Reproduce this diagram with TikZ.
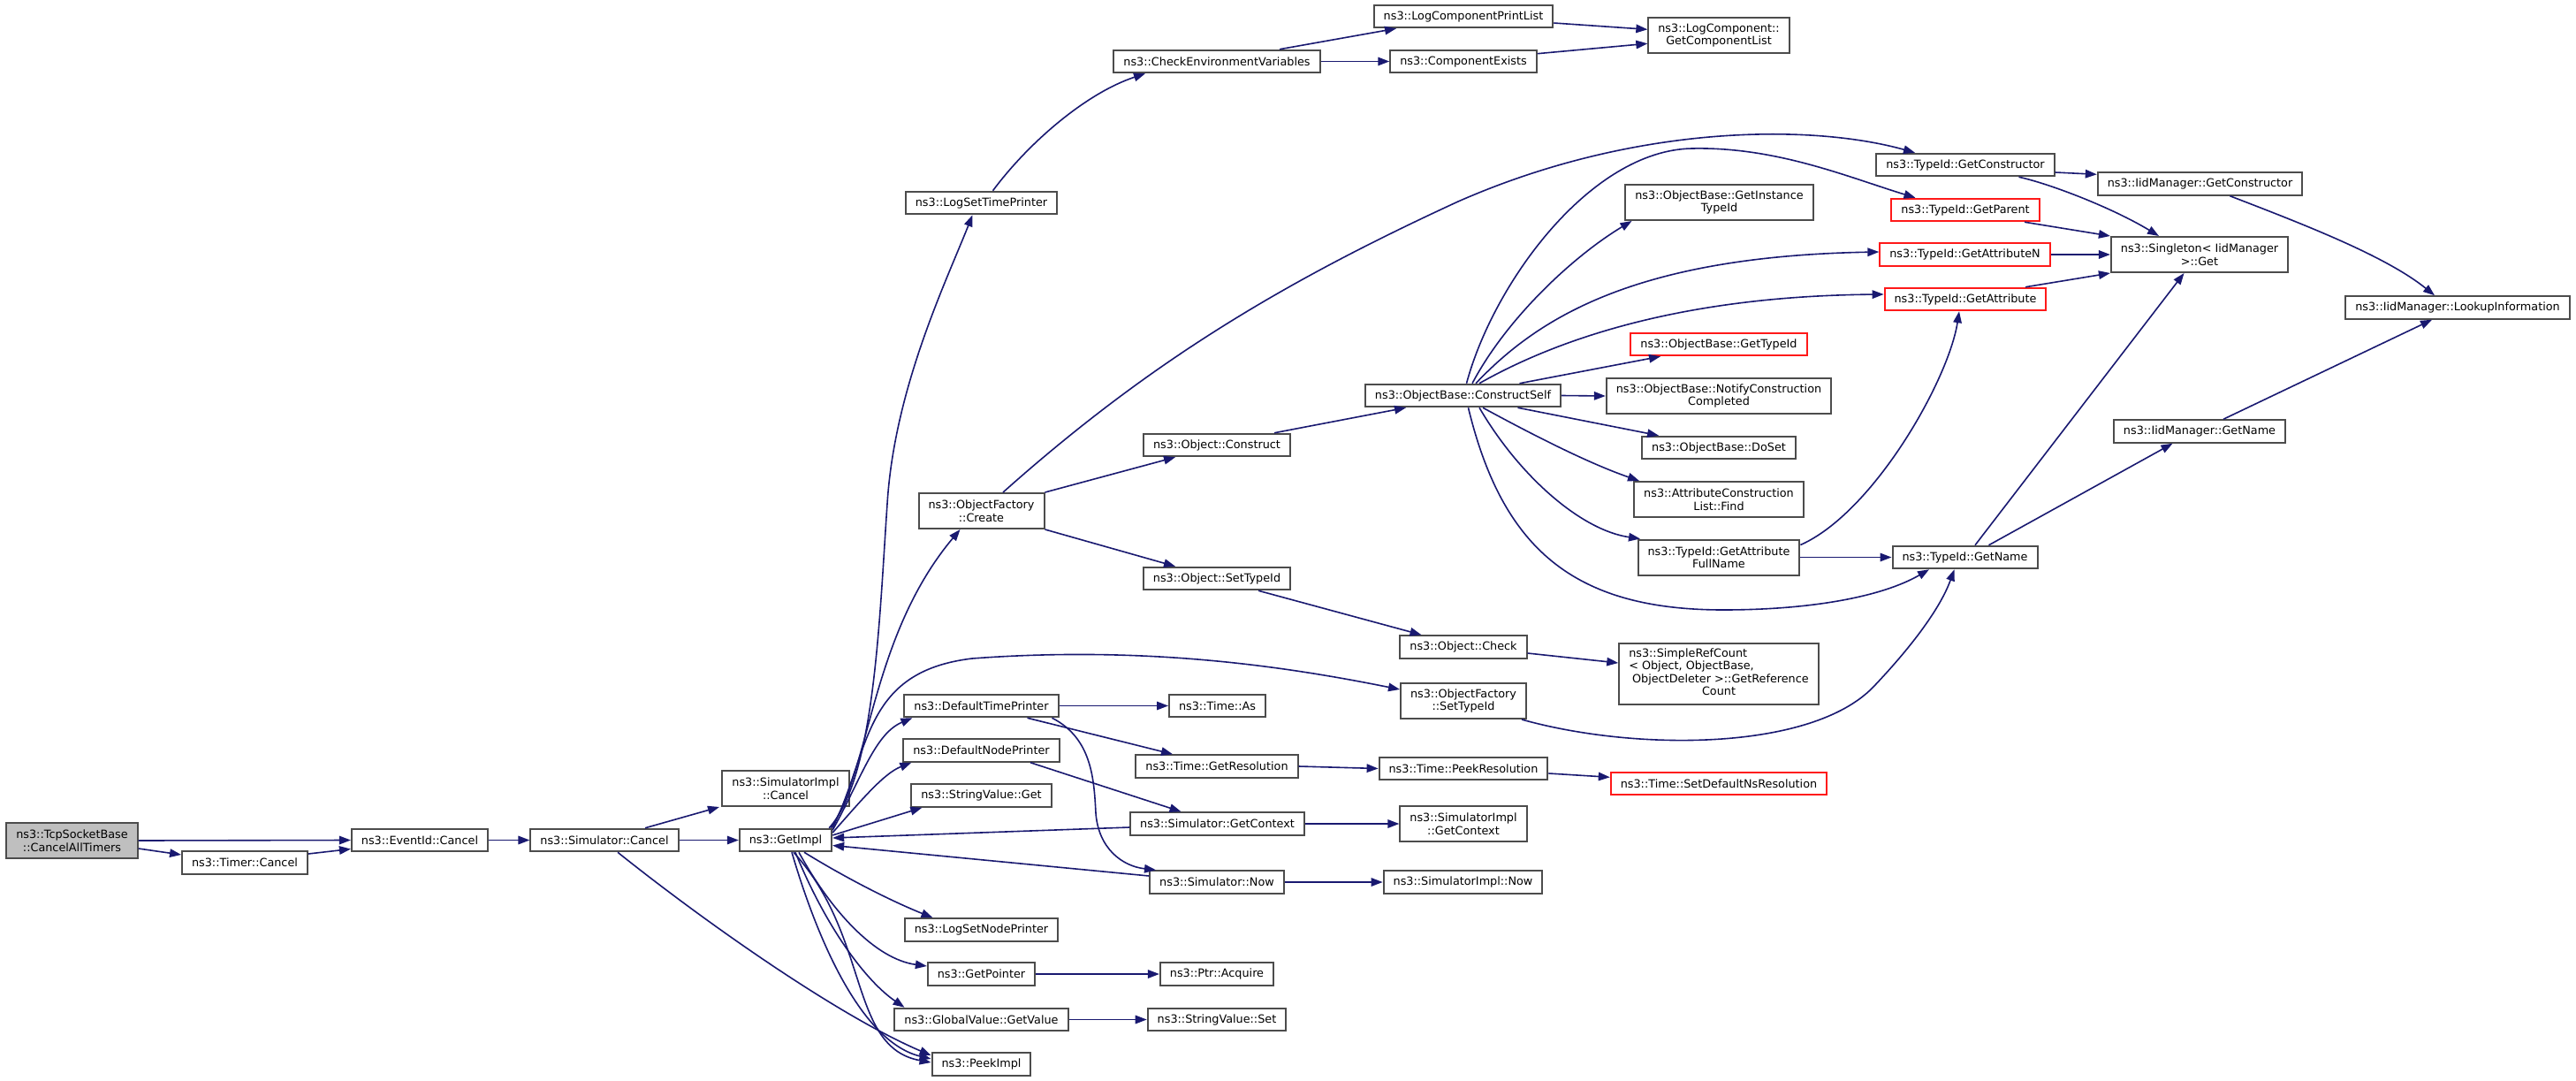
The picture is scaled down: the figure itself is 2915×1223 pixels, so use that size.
\documentclass[tikz,border=0pt]{standalone}
\usepackage{fontspec}
\setmainfont{DejaVu Sans}
\usetikzlibrary{arrows.meta}
\definecolor{navy}{HTML}{191970}

\begin{document}
\begin{tikzpicture}[x=1pt, y=-1pt,
    fn/.style={draw=black!70, line width=2pt, fill=white, inner xsep=11pt, inner ysep=0pt,
        minimum height=25.5pt, align=center, font=\fontsize{12.8}{14.5}\selectfont},
    two/.style={minimum height=40pt},
    trunc/.style={draw=red!90},
    call/.style={draw=navy, line width=1.6pt, -{Triangle[length=13pt,width=9.5pt]}}]
    \useasboundingbox (0,0) rectangle (2915,1223);

    % Root and first callees
    \node[fn, two, fill=black!25] (tcp) at (81.5,951) {ns3::TcpSocketBase\\::CancelAllTimers};
    \node[fn] (timer) at (277,976) {ns3::Timer::Cancel};
    \node[fn] (evcancel) at (475,950.5) {ns3::EventId::Cancel};
    \node[fn] (simcancel) at (684,950.5) {ns3::Simulator::Cancel};
    \node[fn, two] (simimplcancel) at (889,892) {ns3::SimulatorImpl\\::Cancel};
    \node[fn] (getimpl) at (889,950.5) {ns3::GetImpl};

    % Callees of GetImpl
    \node[fn] (logsettime) at (1110.5,229.5) {ns3::LogSetTimePrinter};
    \node[fn, two] (ofcreate) at (1110.5,578) {ns3::ObjectFactory\\::Create};
    \node[fn] (deftime) at (1110.5,798.5) {ns3::DefaultTimePrinter};
    \node[fn] (defnode) at (1110.5,849) {ns3::DefaultNodePrinter};
    \node[fn] (strget) at (1110.5,900) {ns3::StringValue::Get};
    \node[fn] (logsetnode) at (1110.5,1052) {ns3::LogSetNodePrinter};
    \node[fn] (getpointer) at (1110.5,1102) {ns3::GetPointer};
    \node[fn] (globalget) at (1110.5,1153.5) {ns3::GlobalValue::GetValue};
    \node[fn] (peekimpl) at (1110.5,1204) {ns3::PeekImpl};

    % Third column
    \node[fn] (checkenv) at (1377,69.5) {ns3::CheckEnvironmentVariables};
    \node[fn] (objconstruct) at (1377,503.5) {ns3::Object::Construct};
    \node[fn] (objsettype) at (1377,654.5) {ns3::Object::SetTypeId};
    \node[fn] (timeas) at (1377.5,798.5) {ns3::Time::As};
    \node[fn] (getres) at (1377,867) {ns3::Time::GetResolution};
    \node[fn] (simgetctx) at (1377.5,932) {ns3::Simulator::GetContext};
    \node[fn] (simnow) at (1377,998) {ns3::Simulator::Now};
    \node[fn] (ptracq) at (1377,1102) {ns3::Ptr::Acquire};
    \node[fn] (strset) at (1377,1153.5) {ns3::StringValue::Set};

    % Fourth column
    \node[fn] (logprint) at (1656,18.5) {ns3::LogComponentPrintList};
    \node[fn] (compexists) at (1656,69.5) {ns3::ComponentExists};
    \node[fn] (constructself) at (1655.5,447.5) {ns3::ObjectBase::ConstructSelf};
    \node[fn] (objcheck) at (1656,732) {ns3::Object::Check};
    \node[fn, two] (ofsettype) at (1656,793) {ns3::ObjectFactory\\::SetTypeId};
    \node[fn] (peekres) at (1656,869.5) {ns3::Time::PeekResolution};
    \node[fn, two] (implgetctx) at (1656,932) {ns3::SimulatorImpl\\::GetContext};
    \node[fn] (implnow) at (1655.5,998) {ns3::SimulatorImpl::Now};

    % Fifth column
    \node[fn, two] (getcomplist) at (1945,40) {ns3::LogComponent::\\GetComponentList};
    \node[fn, two] (getinsttype) at (1945.5,229) {ns3::ObjectBase::GetInstance\\TypeId};
    \node[fn, trunc] (obgettypeid) at (1945,389.5) {ns3::ObjectBase::GetTypeId};
    \node[fn, two] (notify) at (1945,448) {ns3::ObjectBase::NotifyConstruction\\Completed};
    \node[fn] (obdoset) at (1945,506.5) {ns3::ObjectBase::DoSet};
    \node[fn, two] (acfind) at (1945,565) {ns3::AttributeConstruction\\List::Find};
    \node[fn, two] (gafn) at (1945,630.5) {ns3::TypeId::GetAttribute\\FullName};
    \node[fn, minimum height=69pt] (refcount) at (1945,762)
        {\begin{tabular}{@{}l@{}}ns3::SimpleRefCount\\< Object, ObjectBase,\\\hspace{0.3em}ObjectDeleter >::GetReference\\\multicolumn{1}{@{}c@{}}{Count}\end{tabular}};
    \node[fn, trunc] (setdefres) at (1945,886.3) {ns3::Time::SetDefaultNsResolution};

    % TypeId and IidManager
    \node[fn] (tidctor) at (2224,186.5) {ns3::TypeId::GetConstructor};
    \node[fn, trunc] (tidparent) at (2224,237.5) {ns3::TypeId::GetParent};
    \node[fn, trunc] (tidattrn) at (2223.5,288) {ns3::TypeId::GetAttributeN};
    \node[fn, trunc] (tidattr) at (2224,338.5) {ns3::TypeId::GetAttribute};
    \node[fn] (tidgetname) at (2223.5,630.5) {ns3::TypeId::GetName};
    \node[fn] (iidctor) at (2489.5,208) {ns3::IidManager::GetConstructor};
    \node[fn, two] (singleton) at (2489,288) {ns3::Singleton< IidManager\\>::Get};
    \node[fn] (iidgetname) at (2489,488) {ns3::IidManager::GetName};
    \node[fn] (lookup) at (2781,348) {ns3::IidManager::LookupInformation};

    % Straight calls
    \foreach \a/\b in {tcp/evcancel, evcancel/simcancel, simcancel/getimpl, checkenv/compexists,
        deftime/timeas, getres/peekres, simgetctx/implgetctx, simnow/implnow, getpointer/ptracq,
        globalget/strset, constructself/notify, gafn/tidgetname, tidattrn/singleton}
        \draw[call] (\a.east) -- (\b.west);

    % Root side
    \draw[call] ([yshift=-9pt]tcp.east) -- ([yshift=9pt]timer.west);
    \draw[call] ([yshift=10pt]timer.east) -- ([yshift=-10pt]evcancel.west);
    \draw[call] ([xshift=46pt]simcancel.north) -- ([xshift=-75pt]simimplcancel.south);
    \draw[call] ([xshift=15pt]simcancel.south) .. controls (800,1045) and (950,1150) .. ([yshift=10pt]peekimpl.west);

    % GetImpl fan
    \draw[call] ([xshift=-4pt]getimpl.north east) .. controls (990,880) and (995,700) .. (1004,570)
        .. controls (1012,440) and (1070,320) .. ([xshift=-10pt]logsettime.south);
    \draw[call] ([xshift=-2pt]getimpl.north east) .. controls (985,870) and (985,720) .. ([xshift=-24pt]ofcreate.south);
    \draw[call] (getimpl.north east) .. controls (985,850) and (975,760) .. (1100,745)
        .. controls (1300,730) and (1460,755) .. ([yshift=13pt]ofsettype.west);
    \draw[call] (getimpl.12) .. controls (975,880) and (990,830) .. ([xshift=10pt]deftime.south west);
    \draw[call] (getimpl.9) .. controls (975,905) and (1000,875) .. ([xshift=10pt]defnode.south west);
    \draw[call] (getimpl.6) -- ([xshift=13pt]strget.south west);
    \draw[call] ([yshift=-4pt]simgetctx.west) -- ([yshift=2.5pt]getimpl.east);
    \draw[call] ([yshift=7pt]simnow.west) -- ([yshift=-6pt]getimpl.east);
    \draw[call] ([xshift=21pt]getimpl.south) .. controls (960,995) and (1010,1020) .. ([xshift=-55pt]logsetnode.north);
    \draw[call] ([xshift=15pt]getimpl.south) .. controls (940,1030) and (990,1085) .. ([yshift=9pt]getpointer.west);
    \draw[call] ([xshift=11pt]getimpl.south) .. controls (935,1050) and (980,1110) .. ([xshift=-87pt]globalget.north);
    \draw[call] ([xshift=7pt]getimpl.south) .. controls (930,1080) and (980,1180) .. ([yshift=6pt]peekimpl.west);
    \draw[call] ([xshift=9pt]getimpl.south) .. controls (985,1060) and (960,1185) .. ([yshift=2pt]peekimpl.west);

    % Logging
    \draw[call] ([xshift=13pt]logsettime.north) .. controls (1165,160) and (1230,105) .. ([xshift=-81pt]checkenv.south);
    \draw[call] ([xshift=71pt]checkenv.north) -- ([xshift=-76pt]logprint.south);
    \draw[call] ([yshift=-7.5pt]logprint.east) -- ([yshift=6.7pt]getcomplist.west);
    \draw[call] ([yshift=8.8pt]compexists.east) -- ([yshift=-9.3pt]getcomplist.west);

    % ObjectFactory
    \draw[call] ([xshift=24.5pt]ofcreate.north) .. controls (1300,410) and (1450,320) .. (1650,228)
        .. controls (1850,140) and (2050,140) .. ([xshift=-57pt]tidctor.north);
    \draw[call] (ofcreate.north east) -- ([xshift=-47pt]objconstruct.south);
    \draw[call] (ofcreate.south east) -- ([xshift=-47pt]objsettype.north);
    \draw[call] ([xshift=65pt]objconstruct.north) -- ([xshift=-64.5pt]constructself.south);
    \draw[call] ([xshift=47pt]objsettype.south) -- ([xshift=-47.5pt]objcheck.north);
    \draw[call] ([yshift=-7pt]objcheck.east) -- ([yshift=12pt]refcount.west);
    \draw[call] ([xshift=66pt]ofsettype.south) .. controls (1850,850) and (2050,850) .. (2120,777)
        .. controls (2160,735) and (2195,690) .. ([xshift=-12pt]tidgetname.south);

    % Printers
    \draw[call] ([xshift=52pt]deftime.south) -- ([xshift=-50pt]getres.north);
    \draw[call] ([xshift=80pt]deftime.south) .. controls (1235,835) and (1238,880) .. (1240,920)
        .. controls (1243,960) and (1270,980) .. ([xshift=-69pt]simnow.north);
    \draw[call] ([xshift=55.5pt]defnode.south) -- ([xshift=-41pt]simgetctx.north);
    \draw[call] ([yshift=-5.5pt]peekres.east) -- ([yshift=7pt]setdefres.west);

    % ConstructSelf
    \draw[call] ([xshift=10.5pt]constructself.north) .. controls (1705,360) and (1780,290) .. ([xshift=-99pt]getinsttype.south);
    \draw[call] ([xshift=4pt]constructself.north) .. controls (1690,320) and (1800,170) .. (1914.6,168)
        .. controls (2010,166) and (2090,200) .. ([xshift=-56.5pt]tidparent.north);
    \draw[call] ([xshift=14.5pt]constructself.north) .. controls (1740,360) and (1850,290) .. ([yshift=3pt]tidattrn.west);
    \draw[call] ([xshift=18.5pt]constructself.north) .. controls (1760,385) and (1900,335) .. ([yshift=5.5pt]tidattr.west);
    \draw[call] ([xshift=64pt]constructself.north) -- ([xshift=-66pt]obgettypeid.south);
    \draw[call] ([xshift=62pt]constructself.south) -- ([xshift=-68pt]obdoset.north);
    \draw[call] ([xshift=22.5pt]constructself.south) .. controls (1740,495) and (1800,525) .. ([xshift=-90pt]acfind.north);
    \draw[call] ([xshift=18.5pt]constructself.south) .. controls (1720,540) and (1790,600) .. ([xshift=-89pt]gafn.north);
    \draw[call] ([xshift=6pt]constructself.south) .. controls (1700,620) and (1780,690) .. (1950,690)
        .. controls (2050,690) and (2130,675) .. ([xshift=-40.5pt]tidgetname.south);
    \draw[call] ([yshift=14pt]gafn.east) .. controls (2120,580) and (2205,430) .. ([xshift=-7pt]tidattr.south);

    % TypeId and IidManager
    \draw[call] ([yshift=-8.5pt]tidctor.east) -- ([yshift=10.7pt]iidctor.west);
    \draw[call] ([xshift=60.5pt]tidctor.south) .. controls (2320,208) and (2390,235) .. ([xshift=-46pt]singleton.north);
    \draw[call] ([xshift=67pt]tidparent.south) -- (singleton.north west);
    \draw[call] ([xshift=68pt]tidattr.north) -- (singleton.south west);
    \draw[call] ([xshift=11.5pt]tidgetname.north) -- ([xshift=-17.5pt]singleton.south);
    \draw[call] ([xshift=27pt]tidgetname.north) -- ([xshift=-30.5pt]iidgetname.south);
    \draw[call] ([xshift=34pt]iidctor.south) .. controls (2610,255) and (2700,290) .. ([xshift=-26pt]lookup.north);
    \draw[call] ([xshift=27pt]iidgetname.north) -- ([xshift=-29pt]lookup.south);
\end{tikzpicture}
\end{document}
